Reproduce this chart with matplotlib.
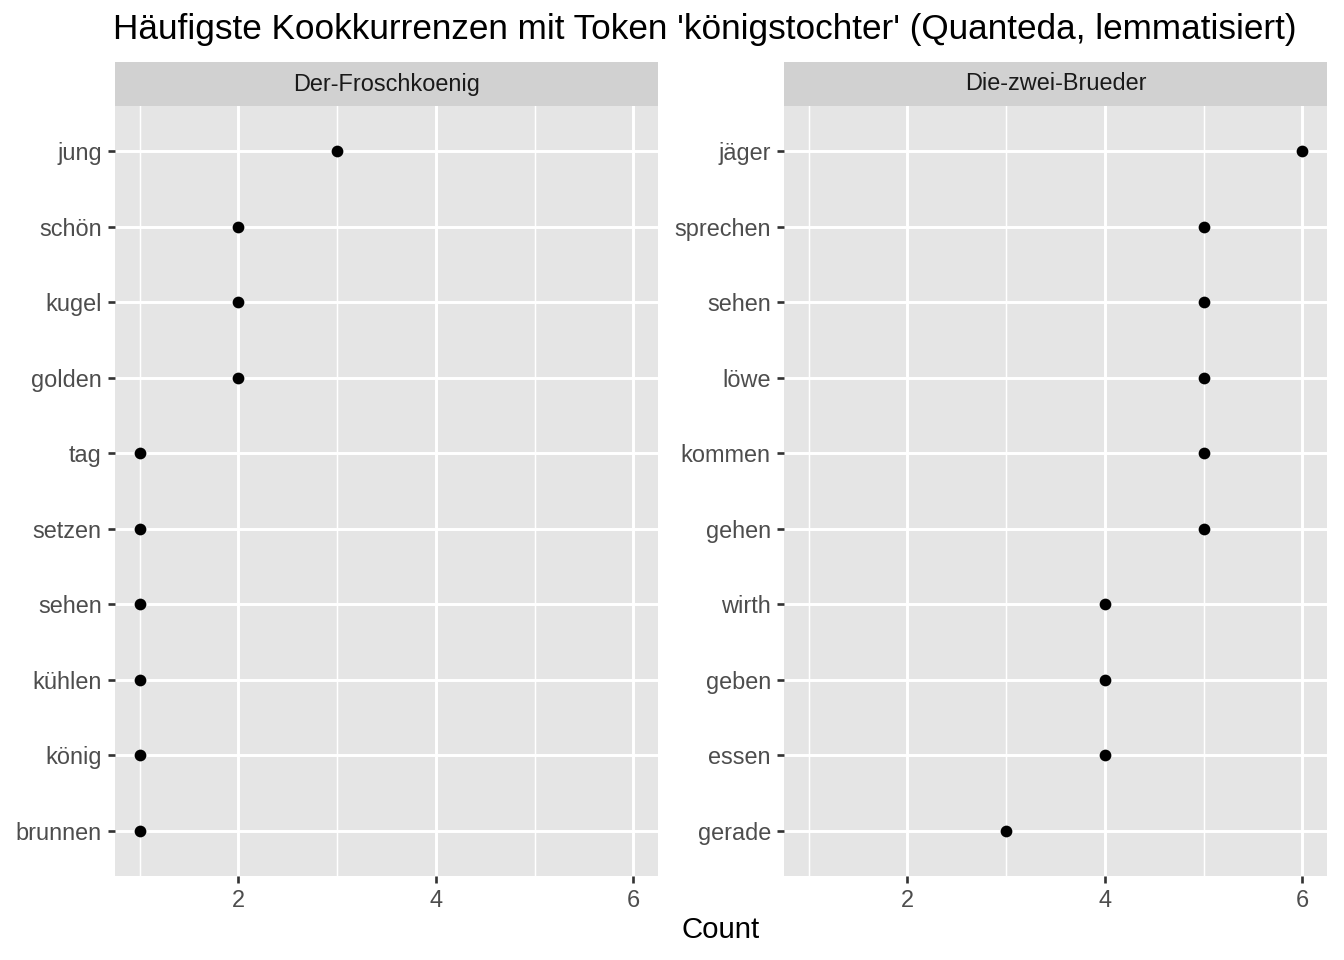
import matplotlib
matplotlib.use("Agg")
import matplotlib.pyplot as plt

plt.rcParams['font.family'] = ['Liberation Sans', 'DejaVu Sans']

panel_titles = ["Der-Froschkoenig", "Die-zwei-Brueder"]
terms_1 = ["brunnen", "könig", "kühlen", "sehen", "setzen", "tag", "golden", "kugel", "schön", "jung"]
counts_1 = [1, 1, 1, 1, 1, 1, 2, 2, 2, 3]
terms_2 = ["gerade", "essen", "geben", "wirth", "gehen", "kommen", "löwe", "sehen", "sprechen", "jäger"]
counts_2 = [3, 4, 4, 4, 5, 5, 5, 5, 5, 6]
x_ticks = [2, 4, 6]
x_minor = [1, 3, 5]

fig = plt.figure(figsize=(7, 5), dpi=192)

panels = [
    (115/1344, 658/1344, terms_1, counts_1, panel_titles[0]),
    (784/1344, 1327/1344, terms_2, counts_2, panel_titles[1]),
]
bottom = 1 - 876/960
top = 1 - 106/960
strip_top = 1 - 62/960

for left, right, terms, counts, title in panels:
    ax = fig.add_axes([left, bottom, right - left, top - bottom])
    ax.set_facecolor('#E5E5E5')
    ypos = list(range(1, len(terms) + 1))
    ax.set_xlim(0.75, 6.25)
    ax.set_ylim(0.4, len(terms) + 0.6)
    for xm in x_minor:
        ax.axvline(xm, color='white', lw=0.55, zorder=0)
    for xt in x_ticks:
        ax.axvline(xt, color='white', lw=1.1, zorder=0)
    for y in ypos:
        ax.axhline(y, color='white', lw=1.1, zorder=0)
    ax.plot(counts, ypos, 'o', color='black', markersize=4.4, markeredgewidth=0, zorder=3)
    ax.set_xticks(x_ticks)
    ax.set_yticks(ypos)
    ax.set_yticklabels(terms)
    ax.tick_params(axis='both', colors='#333333', labelcolor='#4D4D4D', labelsize=8.8,
                   length=2.75, width=1.0, pad=2.2)
    for s in ax.spines.values():
        s.set_visible(False)
    sax = fig.add_axes([left, top, right - left, strip_top - top])
    sax.set_facecolor('#D1D1D1')
    sax.set_xticks([]); sax.set_yticks([])
    for s in sax.spines.values():
        s.set_visible(False)
    sax.text(0.5, 0.5, title, ha='center', va='center', fontsize=8.8, color='#1A1A1A',
             transform=sax.transAxes)

fig.text(113/1344, 1 - 30/960, "Häufigste Kookkurrenzen mit Token 'königstochter' (Quanteda, lemmatisiert)",
         ha='left', va='center', fontsize=13.2, color='black')
fig.text(721/1344, 1 - 930/960, "Count", ha='center', va='center', fontsize=11, color='black')

fig.savefig("out.png", dpi=192)
